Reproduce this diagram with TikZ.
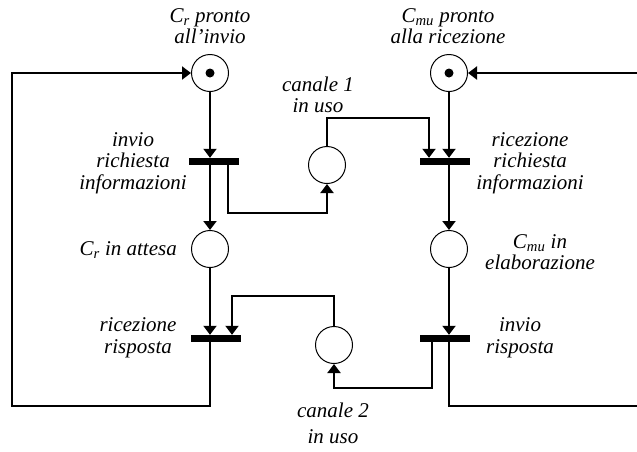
\documentclass[tikz,border=0pt]{standalone}
\usepackage{fontspec}
\setmainfont{Liberation Serif}
\usetikzlibrary{arrows.meta}
\begin{document}
\begin{tikzpicture}[x=1pt,y=-1pt,
  place/.style={draw,circle,line width=1pt,minimum size=37pt,inner sep=0pt},
  bar/.style={fill=black,draw=none,minimum width=50pt,minimum height=7pt,inner sep=0pt},
  arc/.style={line width=2pt,-{Triangle[length=9pt,width=13pt]}},
  plain/.style={line width=2pt},
  lbl/.style={font=\fontsize{21}{21.5}\selectfont\itshape,align=center,inner sep=0pt},
  token/.style={fill=black,circle,minimum size=9pt,inner sep=0pt}]
\useasboundingbox (0,0) rectangle (637,451);
% places
\node[place] (p1) at (210,73) {};
\node[place] (p2) at (449,73) {};
\node[place] (p3) at (327,165) {};
\node[place] (p4) at (210,249) {};
\node[place] (p5) at (449,249) {};
\node[place] (p6) at (334,345) {};
\node[token] (k1) at (p1) {};
\node[token] (k2) at (p2) {};
% transitions
\node[bar] (t1) at (214,161.5) {};
\node[bar] (t2) at (445,161.5) {};
\node[bar] (t3) at (216,338.5) {};
\node[bar] (t4) at (445,338.5) {};
% helper coordinates
\coordinate (a1) at (228,213);
\coordinate (b1) at (429,118);
\coordinate (c1) at (432,388);
\coordinate (d1) at (232,296);
\coordinate (e1) at (12,406);
\coordinate (f1) at (637,406);
\coordinate (f2) at (637,73);
% arcs
\draw[arc] (p1) -- (p1 |- t1.north);
\draw[arc] (p1 |- t1.center) -- (p4);
\draw[arc] (a1 |- t1.center) -- (a1) -| (p3.south);
\draw[arc] (p3.north) |- (b1) -- (b1 |- t2.north);
\draw[arc] (p2) -- (p2 |- t2.north);
\draw[arc] (p2 |- t2.center) -- (p5);
\draw[arc] (p5) -- (p5 |- t4.north);
\draw[arc] (c1 |- t4.center) -- (c1) -| (p6.south);
\draw[arc] (p6.north) |- (d1) -- (d1 |- t3.north);
\draw[arc] (p4) -- (p4 |- t3.north);
\draw[arc] (p4 |- t3.center) |- (e1) |- (p1.west);
\draw[plain] (p5 |- t4.center) |- (f1);
\draw[arc] (f2) -- (p2.east);
% redraw bars on top
\node[bar] at (t1) {};
\node[bar] at (t2) {};
\node[bar] at (t3) {};
\node[bar] at (t4) {};
% labels
\node[lbl] (l1) at (210,26) {C\textsubscript{r} pronto\\all’invio};
\node[lbl] (l2) at (448,26) {C\textsubscript{mu} pronto\\alla ricezione};
\node[lbl] (l3) at (318,95) {canale 1\\in uso};
\node[lbl] (l4) at (133,163) {invio\\richiesta\\informazioni};
\node[lbl] (l5) at (530,163) {ricezione\\richiesta\\informazioni};
\node[lbl,anchor=east] (l6) at (177,250) {C\textsubscript{r} in attesa};
\node[lbl] (l7) at (540,252) {C\textsubscript{mu} in\\elaborazione};
\node[lbl] (l8) at (138,338) {ricezione\\risposta};
\node[lbl] (l9) at (520,338) {invio\\risposta};
\node[lbl] (l10) at (333,410) {canale 2};
\node[lbl] (l11) at (333,437) {in uso};
\end{tikzpicture}
\end{document}
